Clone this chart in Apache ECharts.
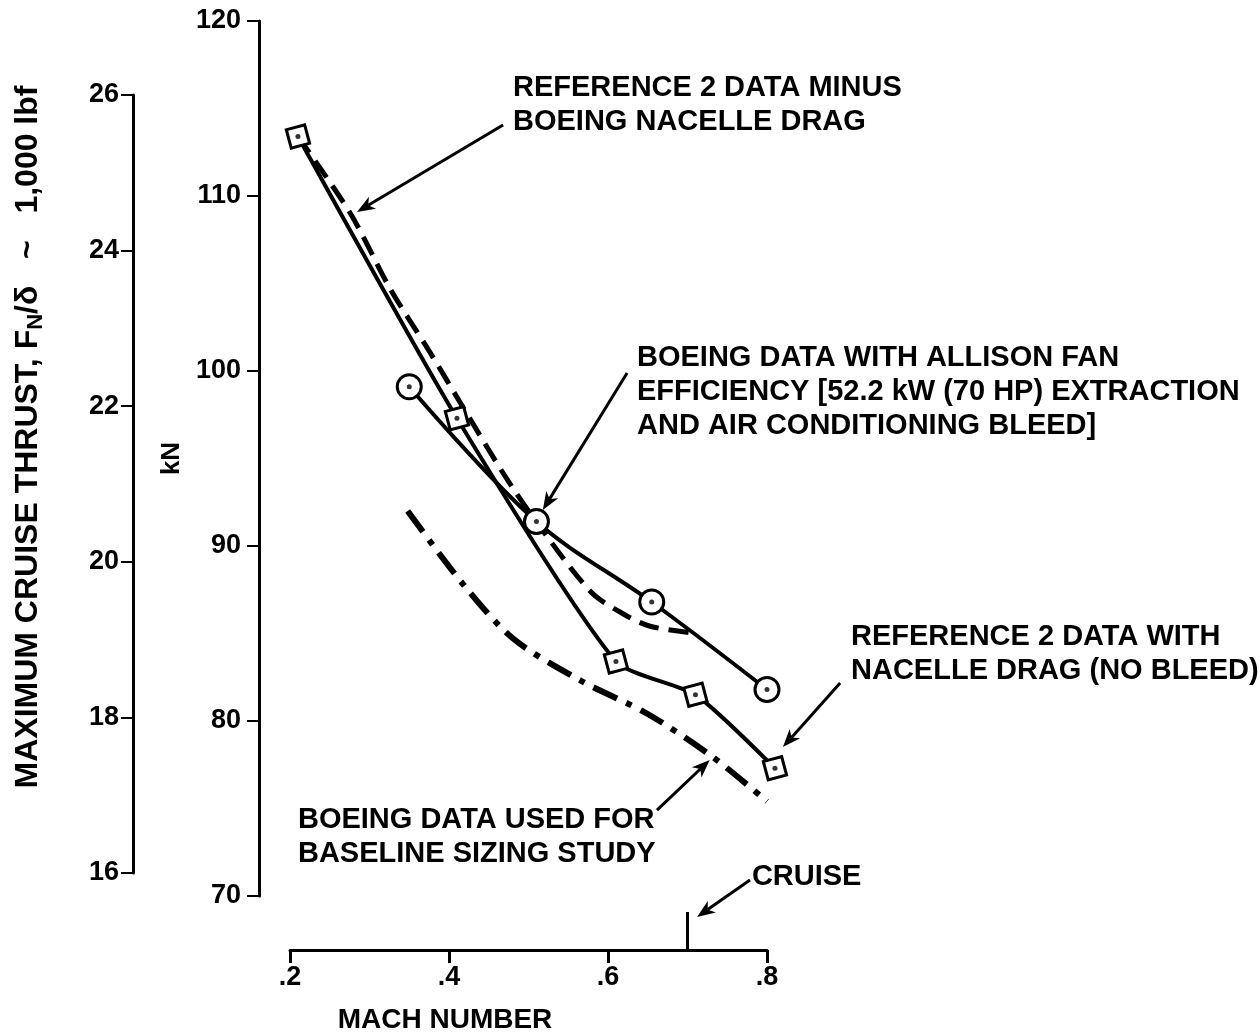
<!DOCTYPE html>
<html>
<head>
<meta charset="utf-8">
<script src="https://cdn.jsdelivr.net/npm/echarts@6/dist/echarts.min.js"></script>
<style>
html,body{margin:0;padding:0;background:#fff;}
#c{width:1260px;height:1036px;}
</style>
</head>
<body>
<div id="c"></div>
<script>
// ---- data ----
const machTicks = [0.2, 0.4, 0.6, 0.8];
const kNTicks = [70, 80, 90, 100, 110, 120];
const lbfTicks = [16, 18, 20, 22, 24, 26];

// Reference 2 data with nacelle drag (no bleed) - squares
const refNacelleMach = [0.21, 0.41, 0.61, 0.71, 0.81];
const refNacelleKN   = [113.4, 97.3, 83.4, 81.5, 77.3];

// Boeing data with Allison fan efficiency - circles
const allisonMach = [0.35, 0.51, 0.655, 0.80];
const allisonKN   = [99.1, 91.4, 86.8, 81.8];

// Reference 2 data minus Boeing nacelle drag - dashed
const refMinusMach = [0.21, 0.276, 0.326, 0.377, 0.418, 0.469, 0.508, 0.578, 0.620, 0.654, 0.713];
const refMinusKN   = [113.4, 109.0, 104.7, 101.0, 97.9, 94.1, 91.5, 87.4, 86.1, 85.4, 85.0];

// Boeing data used for baseline sizing study - dash-dot
const baselineMach = [0.348, 0.418, 0.481, 0.566, 0.650, 0.733, 0.80];
const baselineKN   = [92.0, 87.8, 84.7, 82.3, 80.4, 77.9, 75.4];

const cruiseMach = 0.7;

// annotations: text lines, anchor (mach, kN) and arrow [fromM, fromK, toM, toK]
const notes = [
  {lines: ['REFERENCE 2 DATA MINUS', 'BOEING NACELLE DRAG'], m: 0.4805, k: 116.17, arrow: [0.468, 114.06, 0.2843, 109.09]},
  {lines: ['BOEING DATA WITH ALLISON FAN', 'EFFICIENCY [52.2 kW (70 HP) EXTRACTION', 'AND AIR CONDITIONING BLEED]'], m: 0.6365, k: 100.74, arrow: [0.624, 99.89, 0.518, 92.06]},
  {lines: ['REFERENCE 2 DATA WITH', 'NACELLE DRAG (NO BLEED)'], m: 0.9057, k: 84.8, arrow: [0.892, 82.17, 0.820, 78.51]},
  {lines: ['BOEING DATA USED FOR', 'BASELINE SIZING STUDY'], m: 0.210, k: 74.34, arrow: [0.6616, 74.91, 0.728, 77.77]},
  {lines: ['CRUISE'], m: 0.781, k: 71.09, arrow: [0.7786, 70.91, 0.712, 68.8]}
];

const zip = (a, b) => a.map((v, i) => [v, b[i]]);
const FONT = 'Liberation Sans, Arial, sans-serif';

const chart = echarts.init(document.getElementById('c'), null, {renderer: 'canvas'});

const option = {
  animation: false,
  backgroundColor: '#fff',
  grid: [
    {left: 290, top: 21, width: 477, height: 875},
    {left: 133, top: 95, width: 10, height: 778}
  ],
  xAxis: [
    {
      gridIndex: 0, type: 'value', min: machTicks[0], max: machTicks[machTicks.length - 1], interval: 0.2,
      offset: 54,
      axisLine: {show: true, onZero: false, lineStyle: {color: '#000', width: 3}},
      axisTick: {show: true, length: 13, lineStyle: {color: '#000', width: 3}},
      axisLabel: {color: '#000', fontFamily: FONT, fontWeight: 'bold', fontSize: 27, margin: 14,
        formatter: v => v.toFixed(1).replace(/^0/, '')},
      splitLine: {show: false}
    },
    {gridIndex: 1, type: 'value', min: 0, max: 1, show: false}
  ],
  yAxis: [
    {
      gridIndex: 0, type: 'value', min: kNTicks[0], max: kNTicks[kNTicks.length - 1], interval: 10,
      offset: 31,
      name: 'kN', nameLocation: 'middle', nameGap: 74, nameRotate: 90,
      nameTextStyle: {color: '#000', fontFamily: FONT, fontWeight: 'bold', fontSize: 26},
      axisLine: {show: true, onZero: false, lineStyle: {color: '#000', width: 3}},
      axisTick: {show: true, length: 12, lineStyle: {color: '#000', width: 2}},
      axisLabel: {color: '#000', fontFamily: FONT, fontWeight: 'bold', fontSize: 27, margin: 18},
      splitLine: {show: false}
    },
    {
      gridIndex: 1, type: 'value', min: lbfTicks[0], max: lbfTicks[lbfTicks.length - 1], interval: 2,
      position: 'left',
      axisLine: {show: true, onZero: false, lineStyle: {color: '#000', width: 3}},
      axisTick: {show: true, length: 12, lineStyle: {color: '#000', width: 2}},
      axisLabel: {color: '#000', fontFamily: FONT, fontWeight: 'bold', fontSize: 27, margin: 14},
      splitLine: {show: false}
    }
  ],
  series: [
    {
      type: 'line', xAxisIndex: 0, yAxisIndex: 0, z: 3, clip: false,
      data: zip(refNacelleMach, refNacelleKN), smooth: 0.2,
      symbol: 'rect', symbolSize: 19, symbolRotate: 15,
      lineStyle: {color: '#000', width: 4},
      itemStyle: {color: '#fff', borderColor: '#000', borderWidth: 3}
    },
    {
      type: 'line', xAxisIndex: 0, yAxisIndex: 0, z: 3, clip: false,
      data: zip(allisonMach, allisonKN), smooth: 0.35,
      symbol: 'circle', symbolSize: 24,
      lineStyle: {color: '#000', width: 4},
      itemStyle: {color: '#fff', borderColor: '#000', borderWidth: 3}
    },
    {
      type: 'line', xAxisIndex: 0, yAxisIndex: 0, z: 2, clip: false,
      data: zip(refMinusMach, refMinusKN), smooth: 0.3, showSymbol: false, symbol: 'none',
      lineStyle: {color: '#000', width: 5, type: [20, 10]}
    },
    {
      type: 'line', xAxisIndex: 0, yAxisIndex: 0, z: 2, clip: false,
      data: zip(baselineMach, baselineKN), smooth: 0.3, showSymbol: false, symbol: 'none',
      lineStyle: {color: '#000', width: 6, type: [26, 10, 6, 10]}
    },
    {
      type: 'scatter', xAxisIndex: 0, yAxisIndex: 0, z: 5, clip: false,
      data: zip(refNacelleMach, refNacelleKN).concat(zip(allisonMach, allisonKN)),
      symbol: 'circle', symbolSize: 5, itemStyle: {color: '#000'}
    }
  ]
};
chart.setOption(option);

// ---- annotations positioned through the chart's own coordinate system ----
const px = (m, k) => chart.convertToPixel({xAxisIndex: 0, yAxisIndex: 0}, [m, k]);
const textStyleBase = {fill: '#000', font: 'bold 29px ' + FONT};
const g = [];

function arrow(a) {
  const p0 = px(a[0], a[1]), p1 = px(a[2], a[3]);
  const dx = p1[0] - p0[0], dy = p1[1] - p0[1];
  const L = Math.hypot(dx, dy), ux = dx / L, uy = dy / L;
  const hl = 18, hw = 7;
  const bx = p1[0] - ux * hl, by = p1[1] - uy * hl;
  const nx = p1[0] - ux * (hl - 5), ny = p1[1] - uy * (hl - 5);
  g.push({type: 'line', shape: {x1: p0[0], y1: p0[1], x2: nx, y2: ny}, style: {stroke: '#000', lineWidth: 3}, z: 10});
  g.push({type: 'polygon', shape: {points: [
    [p1[0], p1[1]], [bx - uy * hw, by + ux * hw], [nx, ny], [bx + uy * hw, by - ux * hw]
  ]}, style: {fill: '#000'}, z: 10});
}

notes.forEach(n => {
  const p = px(n.m, n.k);
  g.push({type: 'text', x: p[0], y: p[1] - 17, z: 10,
    style: Object.assign({}, textStyleBase, {text: n.lines.join('\n'), lineHeight: 34, textAlign: 'left', textVerticalAlign: 'top'})});
  arrow(n.arrow);
});

// cruise tick on the Mach axis
const cp = px(cruiseMach, kNTicks[0]);
const axisY = cp[1] + 54;
g.push({type: 'line', shape: {x1: cp[0], y1: axisY, x2: cp[0], y2: axisY - 38}, style: {stroke: '#000', lineWidth: 3}, z: 10});

// axis titles
g.push({type: 'text', x: 445, y: 1020, z: 10,
  style: {text: 'MACH NUMBER', fill: '#000', font: 'bold 28px ' + FONT, textAlign: 'center', textVerticalAlign: 'middle'}});

g.push({type: 'text', x: 28, y: 437, rotation: Math.PI / 2, z: 10,
  style: {
    text: 'MAXIMUM CRUISE THRUST, F{sub|N}/δ   ~   1,000 lbf',
    fill: '#000', fontFamily: FONT, fontWeight: 'bold', fontSize: 32,
    textAlign: 'center', textVerticalAlign: 'middle',
    rich: {
      sub: {fontSize: 22, fontFamily: FONT, fontWeight: 'bold', padding: [16, 0, 0, 0], fill: '#000'}
    }
  }});

chart.setOption({graphic: g});
</script>
</body>
</html>
